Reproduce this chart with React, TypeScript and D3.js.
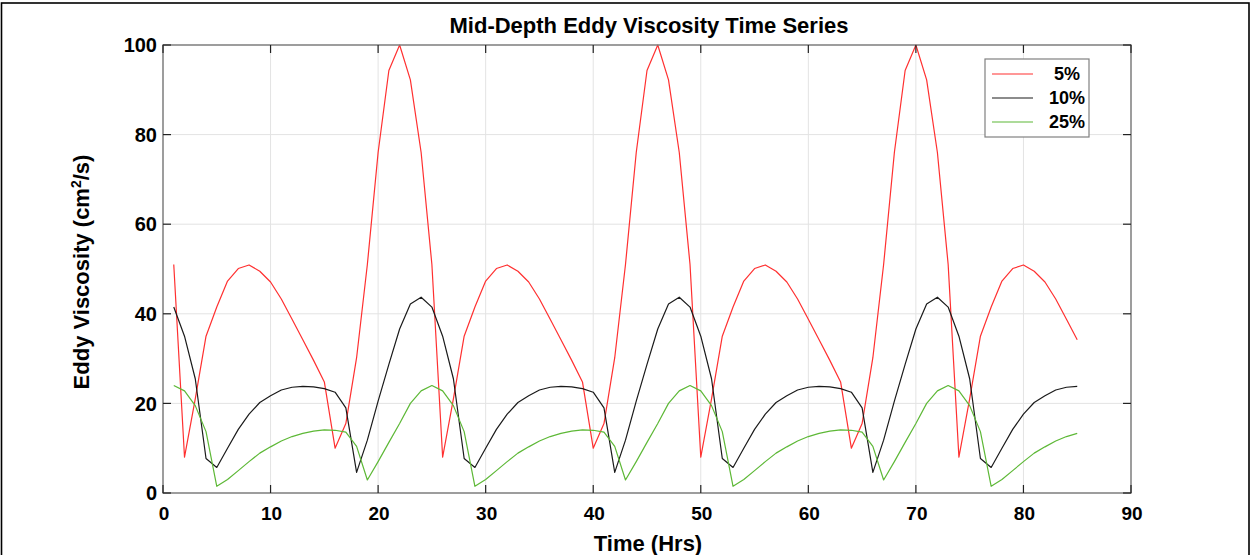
import React from "react";
import * as d3 from "d3";

const hours = [
  1, 2, 3, 4, 5, 6, 7, 8, 9, 10, 11, 12, 13, 14, 15, 16, 17, 18, 19, 20, 21, 22, 23, 24,
  25, 26, 27, 28, 29, 30, 31, 32, 33, 34, 35, 36, 37, 38, 39, 40, 41, 42, 43, 44, 45, 46, 47, 48,
  49, 50, 51, 52, 53, 54, 55, 56, 57, 58, 59, 60, 61, 62, 63, 64, 65, 66, 67, 68, 69, 70, 71, 72,
  73, 74, 75, 76, 77, 78, 79, 80, 81, 82, 83, 84, 85,
];

const visc5 = [
  51, 8, 21, 35, 41.5, 47.3, 50.1, 50.9, 49.5, 47.1, 43.3, 38.8, 34.2, 29.6, 24.8, 10, 15.5, 30.2, 51, 76, 94.3, 100, 92.2, 76,
  51, 8, 21, 35, 41.5, 47.3, 50.1, 50.9, 49.5, 47.1, 43.3, 38.8, 34.2, 29.6, 24.8, 10, 15.5, 30.2, 51, 76, 94.3, 100, 92.2, 76,
  51, 8, 21, 35, 41.5, 47.3, 50.1, 50.9, 49.5, 47.1, 43.3, 38.8, 34.2, 29.6, 24.8, 10, 15.5, 30.2, 51, 76, 94.3, 100, 92.2, 76,
  51, 8, 21, 35, 41.5, 47.3, 50.1, 50.9, 49.5, 47.1, 43.3, 38.8, 34.2,
];

const visc10 = [
  41.5, 35, 25.5, 7.7, 5.7, 10, 14.2, 17.6, 20.2, 21.7, 23, 23.6, 23.8, 23.7, 23.3, 22.5, 19, 4.6, 11.8, 20.5, 28.7, 36.6, 42.2, 43.7,
  41.5, 35, 25.5, 7.7, 5.7, 10, 14.2, 17.6, 20.2, 21.7, 23, 23.6, 23.8, 23.7, 23.3, 22.5, 19, 4.6, 11.8, 20.5, 28.7, 36.6, 42.2, 43.7,
  41.5, 35, 25.5, 7.7, 5.7, 10, 14.2, 17.6, 20.2, 21.7, 23, 23.6, 23.8, 23.7, 23.3, 22.5, 19, 4.6, 11.8, 20.5, 28.7, 36.6, 42.2, 43.7,
  41.5, 35, 25.5, 7.7, 5.7, 10, 14.2, 17.6, 20.2, 21.7, 23, 23.6, 23.8,
];

const visc25 = [
  24, 22.8, 19.5, 13.7, 1.5, 3, 5, 7, 8.9, 10.3, 11.6, 12.6, 13.3, 13.8, 14.1, 14, 13.6, 10.4, 2.9, 7, 11.3, 15.5, 20, 22.8,
  24, 22.8, 19.5, 13.7, 1.5, 3, 5, 7, 8.9, 10.3, 11.6, 12.6, 13.3, 13.8, 14.1, 14, 13.6, 10.4, 2.9, 7, 11.3, 15.5, 20, 22.8,
  24, 22.8, 19.5, 13.7, 1.5, 3, 5, 7, 8.9, 10.3, 11.6, 12.6, 13.3, 13.8, 14.1, 14, 13.6, 10.4, 2.9, 7, 11.3, 15.5, 20, 22.8,
  24, 22.8, 19.5, 13.7, 1.5, 3, 5, 7, 8.9, 10.3, 11.6, 12.6, 13.3,
];

const seriesNames = ["\u00a05%", "10%", "25%"];
const seriesColors = ["#ff3030", "#1a1a1a", "#5db836"];
const xTicks = [0, 10, 20, 30, 40, 50, 60, 70, 80, 90];
const yTicks = [0, 20, 40, 60, 80, 100];

const W = 1252;
const H = 555;
const FONT = "'Liberation Sans', Arial, Helvetica, sans-serif";

export default function App() {
  const x = d3.scaleLinear().domain([0, 90]).range([163, 1131]);
  const y = d3.scaleLinear().domain([0, 100]).range([493, 45]);
  const allSeries = [visc5, visc10, visc25];
  const line = d3
    .line<number>()
    .x((_, i) => x(hours[i]))
    .y((d) => y(d));

  const [x0, x1] = x.range();
  const [y0, y1] = y.range();
  const tickLen = 8;

  return (
    <svg
      width={W}
      height={H}
      style={{ position: "absolute", left: 0, top: 0, background: "#fff" }}
      fontFamily={FONT}
    >
      <rect x={0} y={0} width={W} height={H} fill="#fff" />
      {/* outer frame */}
      <rect x={1.5} y={3} width={1247.5} height={H + 10} fill="none" stroke="#000" strokeWidth={1.6} />

      {/* grid */}
      {xTicks.map((t) => (
        <line key={"gx" + t} x1={x(t)} x2={x(t)} y1={y1} y2={y0} stroke="#e3e3e3" strokeWidth={1} />
      ))}
      {yTicks.map((t) => (
        <line key={"gy" + t} x1={x0} x2={x1} y1={y(t)} y2={y(t)} stroke="#e3e3e3" strokeWidth={1} />
      ))}

      {/* data */}
      {allSeries.map((s, i) => (
        <path key={"s" + i} d={line(s) || ""} fill="none" stroke={seriesColors[i]} strokeWidth={1.2} strokeLinejoin="round" />
      ))}

      {/* axes box */}
      <rect x={x0} y={y1} width={x1 - x0} height={y0 - y1} fill="none" stroke="#7a7a7a" strokeWidth={1.4} />
      {xTicks.map((t) => (
        <g key={"tx" + t}>
          <line x1={x(t)} x2={x(t)} y1={y0} y2={y0 - tickLen} stroke="#222" strokeWidth={1.2} />
          <line x1={x(t)} x2={x(t)} y1={y1} y2={y1 + tickLen} stroke="#222" strokeWidth={1.2} />
          <text x={x(t) + 1} y={520} textAnchor="middle" fontSize={19} fontWeight="bold" fill="#000">
            {t}
          </text>
        </g>
      ))}
      {yTicks.map((t) => (
        <g key={"ty" + t}>
          <line x1={x0} x2={x0 + tickLen} y1={y(t)} y2={y(t)} stroke="#222" strokeWidth={1.2} />
          <line x1={x1} x2={x1 - tickLen} y1={y(t)} y2={y(t)} stroke="#222" strokeWidth={1.2} />
          <text x={157} y={y(t)} dy="0.36em" textAnchor="end" fontSize={20} fontWeight="bold" fill="#000">
            {t}
          </text>
        </g>
      ))}

      {/* title */}
      <text x={649} y={33} textAnchor="middle" fontSize={22} fontWeight="bold" fill="#000">
        Mid-Depth Eddy Viscosity Time Series
      </text>

      {/* axis labels */}
      <text x={648} y={551} textAnchor="middle" fontSize={22} fontWeight="bold" fill="#000">
        Time (Hrs)
      </text>
      <text
        transform={`translate(89, ${272}) rotate(-90)`}
        textAnchor="middle"
        fontSize={22}
        fontWeight="bold"
        fill="#000"
      >
        Eddy Viscosity (cm
        <tspan dy={-8} fontSize={14}>2</tspan>
        <tspan dy={8}>/s)</tspan>
      </text>

      {/* legend */}
      <rect x={985} y={59} width={104} height={78} fill="#fff" stroke="#808080" strokeWidth={1.2} />
      {seriesNames.map((n, i) => (
        <g key={"lg" + i}>
          <line x1={992} x2={1033} y1={74 + i * 24} y2={74 + i * 24} stroke={seriesColors[i]} strokeWidth={1.2} />
          <text x={1049} y={74 + i * 24} dy="0.36em" fontSize={18} fontWeight="bold" fill="#000">
            {n}
          </text>
        </g>
      ))}
    </svg>
  );
}
